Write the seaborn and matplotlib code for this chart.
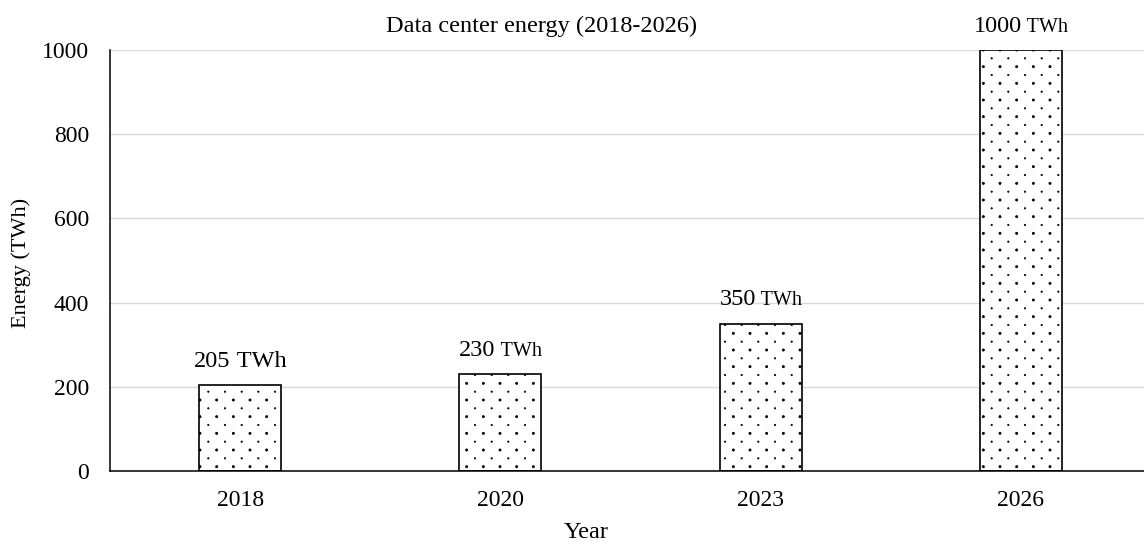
import matplotlib
matplotlib.use("Agg")
import numpy as np
import matplotlib.pyplot as plt
import matplotlib.hatch as mhatch
from matplotlib.path import Path
import seaborn as sns
import pandas as pd
from matplotlib.offsetbox import TextArea, HPacker, AnnotationBbox

years = ["2018", "2020", "2023", "2026"]
energy = [205, 230, 350, 1000]
value_labels = ["205", "230", "350", "1000"]
unit_label = "TWh"
y_ticks = [0, 200, 400, 600, 800, 1000]

title = "Data center energy (2018-2026)"
x_title = "Year"
y_title = "Energy (TWh)"


# Staggered dot hatch (alternating rows of larger and smaller dots)
class StaggeredDots(mhatch.HatchPatternBase):
    filled = True
    big_r = 0.011
    small_r = 0.007

    def __init__(self, hatch, density):
        n = hatch.count('.')
        self.cols = 6 * n
        self.rows = 12 * n
        if n == 0:
            self.num_vertices = 0
            return
        circ = Path.unit_circle()
        self.cv = circ.vertices
        self.cc = circ.codes
        nbig = (self.rows // 2 + 1) * (self.cols + 1)
        nsmall = (self.rows // 2) * self.cols
        self.num_vertices = (nbig + nsmall) * len(self.cv)

    def set_vertices_and_codes(self, vertices, codes):
        vp, cp = [], []
        for i, y in enumerate(np.linspace(0, 1, self.rows + 1)):
            if i % 2 == 0:
                xs = np.linspace(0, 1, self.cols + 1)
                r = self.big_r
            else:
                xs = (np.arange(self.cols) + 0.5) / self.cols
                r = self.small_r
            for x in xs:
                vp.append(self.cv * r + np.array([x, y]))
                cp.append(self.cc)
        np.concatenate(vp, out=vertices)
        np.concatenate(cp, out=codes)


mhatch._hatch_types[:] = [t for t in mhatch._hatch_types
                          if t is not mhatch.SmallFilledCircles] + [StaggeredDots]

sns.set_theme(style="white")
plt.rcParams["font.family"] = ["Liberation Serif", "DejaVu Serif"]
plt.rcParams["hatch.linewidth"] = 0.5
plt.rcParams["hatch.color"] = "black"

df = pd.DataFrame({"Year": years, "Energy": energy})

fig = plt.figure(figsize=(11.44, 5.45), dpi=100)
ax = fig.add_axes([110 / 1144, 1 - 471 / 545, 1041 / 1144, 421 / 545])

sns.barplot(data=df, x="Year", y="Energy", ax=ax, color="white",
            edgecolor="black", linewidth=1.2, width=0.315, saturation=1)
for p in ax.patches:
    p.set_hatch(".")
    p.set_facecolor("white")
    p.set_edgecolor("black")

ax.set_ylim(0, 1000)
ax.set_yticks(y_ticks)
ax.yaxis.grid(True, color="#d9d9d9", linewidth=1.0)
ax.set_axisbelow(True)
for s in ["top", "right"]:
    ax.spines[s].set_visible(False)
for s in ["left", "bottom"]:
    ax.spines[s].set_color("black")
    ax.spines[s].set_linewidth(1.1)
ax.tick_params(axis="both", length=0, labelsize=17, colors="black")
ax.tick_params(axis="y", pad=15)
ax.tick_params(axis="x", pad=13.5)

ax.set_xlabel(x_title, fontsize=17.5, color="black")
ax.xaxis.set_label_coords(586 / 1144, 1 - 532 / 545, transform=fig.transFigure)
ax.xaxis.label.set_va("center")
ax.set_ylabel(y_title, fontsize=16, color="black")
ax.yaxis.set_label_coords(21 / 1144, 1 - 263 / 545, transform=fig.transFigure)
ax.yaxis.label.set_va("center")
fig.text(542 / 1144, 1 - 26 / 545, title, fontsize=17.5, ha="center",
         va="center", color="black")

for i, (v, lab) in enumerate(zip(energy, value_labels)):
    unit_size = 17.5 if i == 0 else 14.5
    num = TextArea(lab, textprops=dict(fontsize=17.5, color="black"))
    unit = TextArea(" " + unit_label,
                    textprops=dict(fontsize=unit_size, color="black"))
    box = HPacker(children=[num, unit], align="baseline", pad=0, sep=0)
    ab = AnnotationBbox(box, (i, v), xybox=(0, 9.5), xycoords="data",
                        boxcoords="offset points", box_alignment=(0.5, 0),
                        frameon=False, annotation_clip=False)
    ax.add_artist(ab)

fig.savefig("out.png", dpi=100)
